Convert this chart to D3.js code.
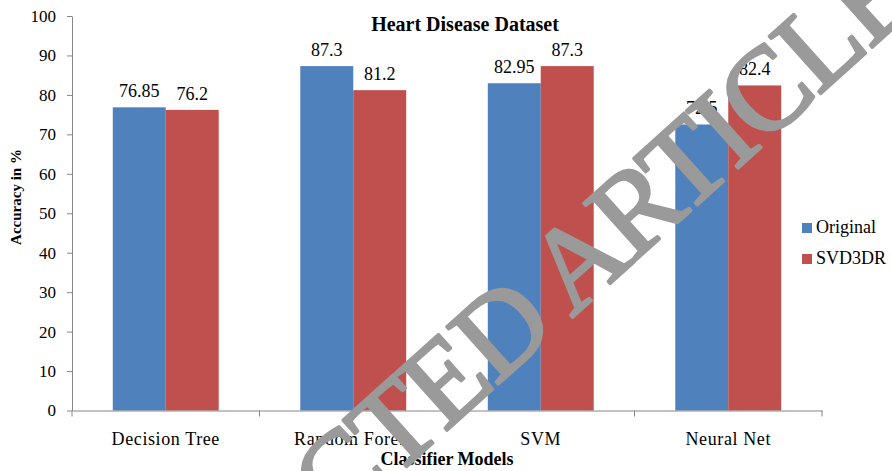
<!DOCTYPE html>
<html>
<head>
<meta charset="utf-8">
<script src="https://cdn.jsdelivr.net/npm/d3@7"></script>
<style>
  html, body { margin: 0; padding: 0; background: #fff; }
  svg { display: block; }
  text { font-family: "Liberation Serif", "Times New Roman", serif; }
</style>
</head>
<body>
<svg id="chart" width="892" height="471"></svg>
<script>
// Classifier accuracy on the heart disease dataset
const categories = ["Decision Tree", "Random Forest", "SVM", "Neural Net"];
const seriesNames = ["Original", "SVD3DR"];
const originalValues = [76.85, 87.3, 82.95, 72.5];
const svd3drValues = [76.2, 81.2, 87.3, 82.4];
const yTicks = [0, 10, 20, 30, 40, 50, 60, 70, 80, 90, 100];
const colors = ["#4F81BD", "#C0504D"];

const table = categories.map((c, i) => ({
  category: c,
  values: [originalValues[i], svd3drValues[i]]
}));

const svg = d3.select("#chart");
const plot = { left: 72, right: 822, top: 16, bottom: 410.5 };
const axisColor = "#868686";

const x0 = d3.scaleBand().domain(categories).range([plot.left, plot.right]).padding(0);
const x1 = d3.scaleBand().domain(seriesNames).range([0, x0.bandwidth()])
  .paddingInner(0).paddingOuter(0.77);
const y = d3.scaleLinear().domain([0, 100]).range([plot.bottom, plot.top]);

// bars
const groups = svg.append("g").selectAll("g").data(table).join("g")
  .attr("transform", d => `translate(${x0(d.category)},0)`);

groups.selectAll("rect").data(d => d.values.map((v, i) => ({ v, i })))
  .join("rect")
  .attr("x", d => x1(seriesNames[d.i]))
  .attr("y", d => y(d.v))
  .attr("width", x1.bandwidth())
  .attr("height", d => y(0) - y(d.v))
  .attr("fill", d => colors[d.i]);

// value labels
groups.selectAll("text.val").data(d => d.values.map((v, i) => ({ v, i })))
  .join("text")
  .attr("class", "val")
  .attr("x", d => x1(seriesNames[d.i]) + x1.bandwidth() / 2)
  .attr("y", d => y(d.v) - 10)
  .attr("text-anchor", "middle")
  .attr("font-size", 18)
  .attr("fill", "#000")
  .text(d => d.v);

// y axis
const yAxis = svg.append("g")
  .attr("transform", `translate(${plot.left},0)`)
  .call(d3.axisLeft(y).tickValues(yTicks).tickSize(5).tickPadding(11).tickSizeOuter(0));
yAxis.select(".domain").attr("stroke", axisColor);
yAxis.selectAll(".tick line").attr("stroke", axisColor);
yAxis.selectAll(".tick text")
  .attr("font-family", "Liberation Serif, serif")
  .attr("font-size", 17)
  .attr("fill", "#000");

// x axis with boundary ticks between categories
const xAxis = svg.append("g")
  .attr("transform", `translate(0,${plot.bottom})`)
  .call(d3.axisBottom(x0).tickSize(0).tickPadding(22));
xAxis.select(".domain").attr("stroke", axisColor);
xAxis.selectAll(".tick text")
  .attr("font-family", "Liberation Serif, serif")
  .attr("font-size", 18)
  .attr("letter-spacing", 0.6)
  .attr("fill", "#000");
const boundaries = categories.map(c => x0(c)).concat([x0(categories[categories.length - 1]) + x0.bandwidth()]);
xAxis.selectAll("line.bound").data(boundaries).join("line")
  .attr("class", "bound")
  .attr("x1", d => d).attr("x2", d => d)
  .attr("y1", 0).attr("y2", 6)
  .attr("stroke", axisColor);

// title
svg.append("text")
  .attr("x", 465).attr("y", 31)
  .attr("text-anchor", "middle")
  .attr("font-size", 20).attr("font-weight", "bold")
  .text("Heart Disease Dataset");

// axis titles
svg.append("text")
  .attr("transform", "translate(21,197) rotate(-90)")
  .attr("text-anchor", "middle")
  .attr("font-size", 15).attr("font-weight", "bold")
  .text("Accuracy in %");

svg.append("text")
  .attr("x", (plot.left + plot.right) / 2).attr("y", 465)
  .attr("text-anchor", "middle")
  .attr("font-size", 18).attr("font-weight", "bold")
  .text("Classifier Models");

// legend
const legend = svg.append("g").attr("transform", "translate(802,223)");
const items = legend.selectAll("g").data(seriesNames).join("g")
  .attr("transform", (d, i) => `translate(0,${i * 31})`);
items.append("rect").attr("width", 10).attr("height", 10)
  .attr("fill", (d, i) => colors[i]);
items.append("text").attr("x", 14).attr("y", 10)
  .attr("font-size", 18).text(d => d);

// retraction stamp across the figure
svg.append("text")
  .attr("transform", "translate(60.5,778.4) rotate(-42)")
  .attr("text-anchor", "start")
  .attr("font-size", 118)
  .attr("letter-spacing", -3)
  .attr("fill", "#9a9a9a")
  .attr("stroke", "#9a9a9a")
  .attr("stroke-width", 3)
  .attr("stroke-linejoin", "round")
  .text("RETRACTED ARTICLE");
</script>
</body>
</html>
